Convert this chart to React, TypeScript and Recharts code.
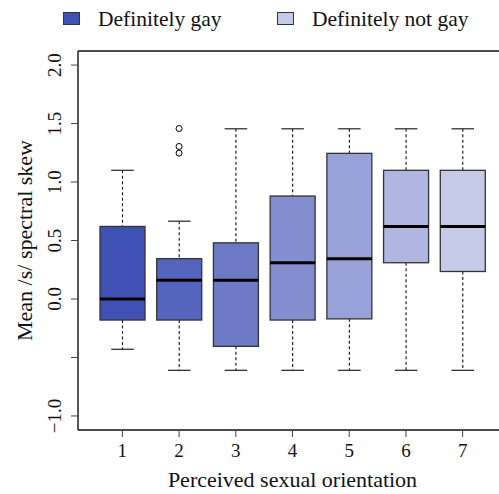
import React from 'react';
import { ComposedChart, Bar, Line, XAxis, YAxis, Cell } from 'recharts';

// box statistics per perceived orientation (1 = definitely gay ... 7 = definitely not gay)
const categories = ['1', '2', '3', '4', '5', '6', '7'];
const whiskerLow = [-0.43, -0.61, -0.61, -0.61, -0.61, -0.61, -0.61];
const lowerQuartile = [-0.18, -0.18, -0.405, -0.18, -0.17, 0.31, 0.235];
const medians = [0.0, 0.16, 0.16, 0.31, 0.345, 0.62, 0.62];
const upperQuartile = [0.62, 0.345, 0.48, 0.88, 1.245, 1.1, 1.1];
const whiskerHigh = [1.1, 0.665, 1.455, 1.455, 1.455, 1.455, 1.455];
const outlierCategory = '2';
const outlierValues = [1.457, 1.304, 1.247];

const boxColors = ['#3f51b5', '#5565be', '#6c79c6', '#828ecf', '#98a2d8', '#afb6e0', '#c5cae9'];
const legendLabels = ['Definitely gay', 'Definitely not gay'];
const legendColors = ['#3f51b5', '#c5cae9'];

const yTicks = [-1, -0.5, 0, 0.5, 1, 1.5, 2];
const yTickLabels = ['\u22121.0', '', '0.0', '0.5', '1.0', '1.5', '2.0'];

const FONT = "'Liberation Serif', 'Times New Roman', serif";

const rows = categories.map((c, i) => ({
  cat: c,
  span: [whiskerLow[i], whiskerHigh[i]],
  lo: whiskerLow[i],
  q1: lowerQuartile[i],
  med: medians[i],
  q3: upperQuartile[i],
  hi: whiskerHigh[i],
  o1: c === outlierCategory ? outlierValues[0] : null,
  o2: c === outlierCategory ? outlierValues[1] : null,
  o3: c === outlierCategory ? outlierValues[2] : null,
}));

function BoxShape(props: any) {
  const { x, y, width, height, payload, fill } = props;
  const top = Math.min(y, y + height);
  const h = Math.abs(height);
  const { lo, hi, q1, med, q3 } = payload;
  const k = h / (hi - lo);
  const py = (v: number) => top + (hi - v) * k;
  const cx = x + width / 2;
  const cap = width / 4;
  return (
    <g>
      <line x1={cx} x2={cx} y1={py(hi)} y2={py(q3)} stroke="#111" strokeWidth={1.1} strokeDasharray="3 2.5" />
      <line x1={cx} x2={cx} y1={py(q1)} y2={py(lo)} stroke="#111" strokeWidth={1.1} strokeDasharray="3 2.5" />
      <line x1={cx - cap} x2={cx + cap} y1={py(hi)} y2={py(hi)} stroke="#333" strokeWidth={1.3} />
      <line x1={cx - cap} x2={cx + cap} y1={py(lo)} y2={py(lo)} stroke="#333" strokeWidth={1.3} />
      <rect x={x} y={py(q3)} width={width} height={py(q1) - py(q3)} fill={fill} stroke="#333" strokeWidth={1.3} />
      <line x1={x} x2={x + width} y1={py(med)} y2={py(med)} stroke="#000" strokeWidth={3} />
    </g>
  );
}

function XTick(props: any) {
  const { x, y, payload } = props;
  return (
    <text x={x} y={y + 18} textAnchor="middle" fontFamily={FONT} fontSize={19} fill="#111">
      {payload.value}
    </text>
  );
}

function YTick(props: any) {
  const { y, payload } = props;
  const idx = yTicks.indexOf(payload.value);
  const label = idx >= 0 ? yTickLabels[idx] : '';
  if (!label) return null;
  const bx = 61;
  return (
    <text x={bx} y={y} transform={`rotate(-90, ${bx}, ${y})`} textAnchor="middle" fontFamily={FONT} fontSize={19} fill="#111">
      {label}
    </text>
  );
}

function XLabel(props: any) {
  const vb = props.viewBox || {};
  return (
    <text x={vb.x + vb.width / 2} y={vb.y + 57} textAnchor="middle" fontFamily={FONT} fontSize={22} fill="#111">
      Perceived sexual orientation
    </text>
  );
}

function YLabel(props: any) {
  const vb = props.viewBox || {};
  const cy = vb.y + vb.height / 2;
  const bx = 31.5;
  return (
    <text x={bx} y={cy} transform={`rotate(-90, ${bx}, ${cy})`} textAnchor="middle" fontFamily={FONT} fontSize={22} fill="#111">
      Mean /s/ spectral skew
    </text>
  );
}

export default function App() {
  return (
    <div style={{ position: 'absolute', left: 0, top: 0, width: 499, height: 494, overflow: 'hidden', background: '#fff' }}>
      {legendLabels.map((lab, i) => {
        const left = i === 0 ? 63 : 277;
        return (
          <div key={lab}>
            <div
              style={{
                position: 'absolute', left, top: 12, width: 15, height: 11,
                background: legendColors[i], border: '1px solid #333',
              }}
            />
            <div
              style={{
                position: 'absolute', left: left + 35, top: 9, fontFamily: FONT, fontSize: 21.5,
                lineHeight: '21.5px', color: '#111', whiteSpace: 'nowrap',
              }}
            >
              {lab}
            </div>
          </div>
        );
      })}
      <ComposedChart
        width={510}
        height={494}
        data={rows}
        margin={{ top: 50, right: 3, bottom: 0, left: 0 }}
        barSize={45}
        style={{ position: 'absolute', left: 0, top: 0 }}
      >
        <XAxis
          dataKey="cat"
          type="category"
          padding={{ left: 16, right: 16 }}
          height={64}
          tickSize={7}
          tickLine={{ stroke: '#444', strokeWidth: 1 }}
          axisLine={{ stroke: '#111', strokeWidth: 1.4 }}
          tick={<XTick />}
          label={<XLabel />}
        />
        <XAxis
          xAxisId="top"
          orientation="top"
          dataKey="cat"
          type="category"
          padding={{ left: 16, right: 16 }}
          height={1}
          tick={false}
          tickLine={false}
          axisLine={{ stroke: '#111', strokeWidth: 1.4 }}
        />
        <YAxis
          type="number"
          domain={[-1.12, 2.12]}
          ticks={yTicks}
          allowDataOverflow
          width={78}
          tickSize={7}
          tickLine={{ stroke: '#444', strokeWidth: 1 }}
          axisLine={{ stroke: '#111', strokeWidth: 1.4 }}
          tick={<YTick />}
          label={<YLabel />}
        />
        <Bar dataKey="span" shape={<BoxShape />} isAnimationActive={false}>
          {rows.map((r, i) => (
            <Cell key={r.cat} fill={boxColors[i]} />
          ))}
        </Bar>
        {['o1', 'o2', 'o3'].map((k) => (
          <Line
            key={k}
            xAxisId="top"
            dataKey={k}
            stroke="none"
            dot={{ r: 3, fill: '#fff', stroke: '#000', strokeWidth: 1 }}
            activeDot={false}
            isAnimationActive={false}
          />
        ))}
      </ComposedChart>
    </div>
  );
}
